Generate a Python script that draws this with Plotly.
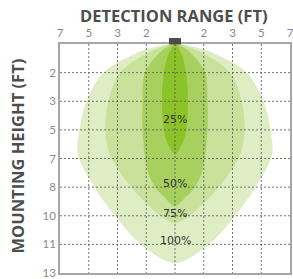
import plotly.graph_objects as go

# ---- axis ticks (evenly spaced categories) ----
x_tickvals = [-4, -3, -2, -1, 0, 1, 2, 3, 4]
x_ticktext = ['7', '5', '3', '2', '', '2', '3', '5', '7']
y_tickvals = [0, 1, 2, 3, 4, 5, 6, 7, 8]
y_ticktext = ['', '2', '3', '5', '7', '8', '10', '11', '13']

# ---- detection zones: depth (row index) and half-width (column index) ----
zone_names = ['100%', '75%', '50%', '25%']

depth_100 = [0, 0.1, 0.32, 1.0, 2.0, 3.0, 3.85, 5.0, 6.0, 7.0, 7.65]
hw_100 = [0, 0.67, 1.35, 2.5, 3.08, 3.32, 3.38, 2.8, 2.09, 1.18, 0]

depth_75 = [0, 0.32, 1.0, 2.0, 3.0, 3.85, 5.0, 6.0, 6.26]
hw_75 = [0, 0.96, 1.92, 2.32, 2.42, 2.27, 1.52, 0.5, 0]

depth_50 = [0, 0.32, 1.0, 2.0, 3.0, 3.85, 4.53, 5.0, 5.34, 5.66]
hw_50 = [0, 0.55, 1.05, 1.13, 1.13, 1.05, 0.92, 0.69, 0.38, 0]

depth_25 = [0, 0.32, 1.0, 2.0, 3.0, 3.55, 3.84]
hw_25 = [0, 0.21, 0.39, 0.45, 0.39, 0.22, 0]

zone_depths = [depth_100, depth_75, depth_50, depth_25]
zone_hws = [hw_100, hw_75, hw_50, hw_25]
zone_colors = ['#deedc4', '#c8e19b', '#a8d05f', '#8cc328']

label_depths = [6.86, 5.92, 4.86, 2.63]

fig = go.Figure()

for name, d, hw, col in zip(zone_names, zone_depths, zone_hws, zone_colors):
    xs = list(hw) + [-h for h in hw[::-1][1:]]
    ys = list(d) + list(d[::-1][1:])
    fig.add_trace(go.Scatter(
        x=xs, y=ys, mode='lines', fill='toself', fillcolor=col,
        line=dict(width=0, color=col, shape='spline', smoothing=0.9),
        hoverinfo='skip', showlegend=False, name=name))

# zone labels
for name, yd in zip(zone_names, label_depths):
    fig.add_annotation(x=0, y=yd, xref='x', yref='y', text=name, showarrow=False,
                       font=dict(family='DejaVu Sans', size=11, color='#333333'))

# grid lines drawn above the zones
grid_style = dict(color='rgba(90,90,90,0.85)', width=1, dash='2px,2px')
for v in x_tickvals[1:-1]:
    fig.add_shape(type='line', xref='x', yref='y', x0=v, x1=v,
                  y0=y_tickvals[0], y1=y_tickvals[-1], line=grid_style, layer='above')
for v in y_tickvals[1:-1]:
    fig.add_shape(type='line', xref='x', yref='y', y0=v, y1=v,
                  x0=x_tickvals[0], x1=x_tickvals[-1], line=grid_style, layer='above')

# sensor
fig.add_shape(type='rect', xref='paper', yref='paper', x0=0.474, x1=0.526,
              y0=0.998, y1=1.026, fillcolor='#4a4a4a', line=dict(width=0), layer='above')

# titles
title_font = dict(family='Open Sans', size=16.5, color='#4d4d4d')
fig.add_annotation(x=0.5, y=1, xref='paper', yref='paper', yanchor='middle',
                   yshift=29, xshift=-1, text='<b>DETECTION RANGE (FT)</b>',
                   showarrow=False, font=title_font)
fig.add_annotation(x=0, y=0.5, xref='paper', yref='paper', xanchor='center',
                   xshift=-43, yshift=2, textangle=-90,
                   text='<b>MOUNTING HEIGHT (FT)</b>', showarrow=False, font=title_font)

tick_font = dict(family='Lato', size=11.5, color='#8a8a8a')
fig.update_xaxes(range=[x_tickvals[0], x_tickvals[-1]], tickvals=x_tickvals,
                 ticktext=x_ticktext, side='top', showgrid=False, zeroline=False,
                 showline=True, mirror=True, linecolor='#a6a6a6', linewidth=2,
                 tickfont=tick_font, layer='above traces', fixedrange=True,
                 ticklabeloverflow='allow', automargin=False)
fig.update_yaxes(range=[y_tickvals[-1], y_tickvals[0]], tickvals=y_tickvals,
                 ticktext=y_ticktext, showgrid=False, zeroline=False,
                 showline=True, mirror=True, linecolor='#a6a6a6', linewidth=1.5,
                 tickfont=tick_font, layer='above traces', fixedrange=True,
                 ticklabeloverflow='allow', automargin=False)

fig.update_layout(width=293, height=279, margin=dict(l=60, r=3, t=44, b=6),
                  paper_bgcolor='white', plot_bgcolor='white', showlegend=False)

# remove the page's default body margin so the figure fills the window
fig.write_html('out.html', config={'displayModeBar': False},
               post_script="document.body.style.margin='0';")
